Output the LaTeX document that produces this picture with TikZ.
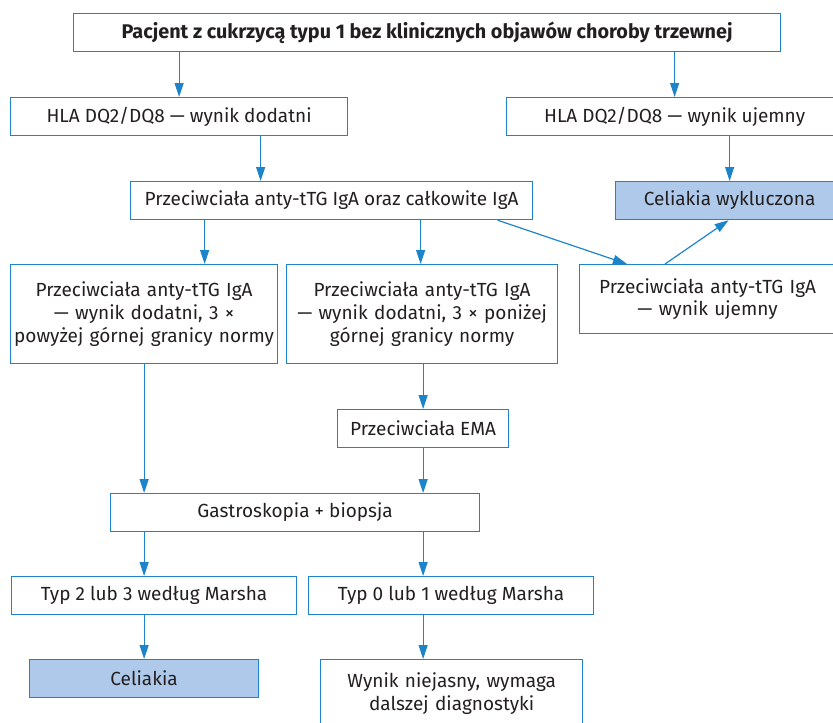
\documentclass[tikz,border=0pt]{standalone}
\usepackage{fontspec}
\setmainfont{Fira Sans}
\usetikzlibrary{arrows.meta,calc}
\definecolor{lineblue}{HTML}{1E84CA}
\definecolor{boxfill}{HTML}{AFC9EA}
\definecolor{txt}{HTML}{231F20}
\tikzset{
  box/.style={draw=lineblue, line width=1.2pt, anchor=north west, inner sep=0pt,
    text=txt, align=center, font=\fontsize{19}{22.7}\selectfont},
  hl/.style={box, fill=boxfill},
  arr/.style={draw=lineblue, line width=1.2pt, -{Triangle[length=14pt,width=9pt]}}
}
\begin{document}
\begin{tikzpicture}[x=1pt,y=-1pt]
\useasboundingbox (0,0) rectangle (833,723);
\clip (0,0) rectangle (833,723);
\node[box, minimum width=707pt, minimum height=38pt, font=\fontsize{19.8}{22.7}\selectfont\bfseries] (top) at (73,13) {Pacjent z cukrzycą typu 1 bez klinicznych objawów choroby trzewnej};
\node[box, minimum width=337pt, minimum height=38pt] (dod) at (10,97) {HLA DQ2/DQ8 — wynik dodatni};
\node[box, minimum width=336pt, minimum height=38pt] (uje) at (506,97) {HLA DQ2/DQ8 — wynik ujemny};
\node[box, minimum width=402pt, minimum height=38pt] (anty) at (130,181) {Przeciwciała anty-tTG IgA oraz całkowite IgA};
\node[hl, minimum width=228pt, minimum height=38pt] (wykl) at (615,181) {Celiakia wykluczona};
\node[box, minimum width=267pt, minimum height=99pt, text width=267pt] (lb) at (10,264) {Przeciwciała anty-tTG IgA\\— wynik dodatni, 3 ×\\powyżej górnej granicy normy};
\node[box, minimum width=271pt, minimum height=99pt, text width=271pt] (mb) at (286,264) {Przeciwciała anty-tTG IgA\\— wynik dodatni, 3 × poniżej\\górnej granicy normy};
\node[box, minimum width=256pt, minimum height=69pt, text width=256pt] (rb) at (579,264) {Przeciwciała anty-tTG IgA\\— wynik ujemny};
\node[box, minimum width=171pt, minimum height=38pt] (ema) at (337,409) {Przeciwciała EMA};
\node[box, minimum width=369pt, minimum height=38pt] (gas) at (110,493) {Gastroskopia + biopsja};
\node[box, minimum width=285pt, minimum height=38pt] (typ2) at (11,576) {Typ 2 lub 3 według Marsha};
\node[box, minimum width=285pt, minimum height=38pt] (typ0) at (308,576) {Typ 0 lub 1 według Marsha};
\node[hl, minimum width=229pt, minimum height=38pt] (cel) at (29,659) {Celiakia};
\node[box, minimum width=262pt, minimum height=68pt, text width=262pt] (wyn) at (320,659) {Wynik niejasny, wymaga\\dalszej diagnostyki};
% connectors
\draw[arr] (top.south -| dod.north) -- (dod.north);
\draw[arr] (top.south -| uje.north) -- (uje.north);
\draw[arr] ([xshift=81.5pt]dod.south) -- ([xshift=81.5pt]dod.south |- anty.north);
\draw[arr] (uje.south -| wykl.north) -- (wykl.north);
\draw[arr] ([xshift=-127pt]anty.south) -- ([xshift=-127pt]anty.south |- lb.north);
\draw[arr] ([xshift=89pt]anty.south) -- ([xshift=89pt]anty.south |- mb.north);
\draw[arr] ([xshift=166pt]anty.south) -- ([xshift=48pt]rb.north west);
\draw[arr] ([xshift=86pt]rb.north west) -- ([xshift=-1pt]wykl.south);
\draw[arr] (mb.south -| ema.north) -- (ema.north);
\draw[arr] (lb.south) -- (lb.south |- gas.north);
\draw[arr] (ema.south) -- (ema.south |- gas.north);
\draw[arr] (gas.south -| lb.south) -- (lb.south |- typ2.north);
\draw[arr] (gas.south -| ema.south) -- (ema.south |- typ0.north);
\draw[arr] (typ2.south -| cel.north) -- (cel.north);
\draw[arr] (typ0.south -| ema.south) -- (ema.south |- wyn.north);
\end{tikzpicture}
\end{document}
